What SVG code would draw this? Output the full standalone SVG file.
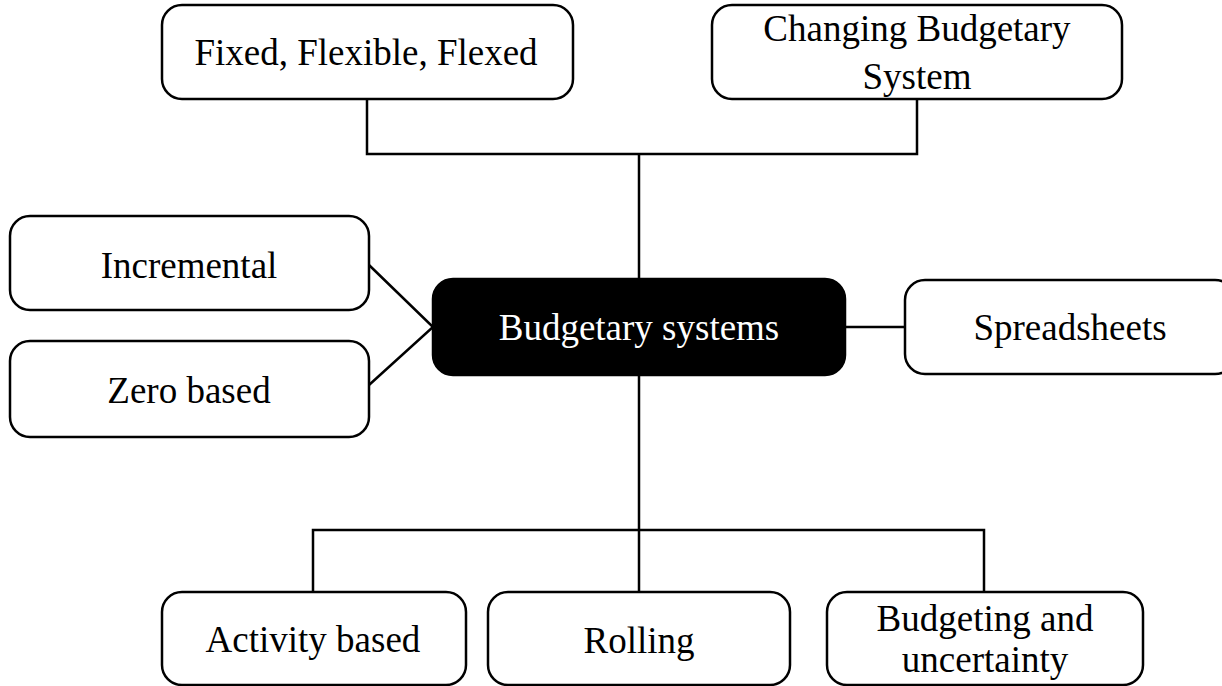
<svg xmlns="http://www.w3.org/2000/svg" width="1222" height="686" viewBox="0 0 1222 686">
<style>
.box{fill:#fff;stroke:#000;stroke-width:2.5}
.dark{fill:#000;stroke:#000;stroke-width:2.5}
.t{font-family:"Liberation Serif","Times New Roman",serif;font-size:37px;text-anchor:middle;fill:#000}
.w{fill:#fff}
.c{fill:none;stroke:#000;stroke-width:2.5}
</style>
<rect width="1222" height="686" fill="#fff"/>
<g id="connectors">
<polyline class="c" points="367,99 367,154 917,154 917,99"/>
<line class="c" x1="639" y1="154" x2="639" y2="279"/>
<polyline class="c" points="369,265 433,327 369,385"/>
<line class="c" x1="845" y1="327" x2="905" y2="327"/>
<line class="c" x1="639" y1="375" x2="639" y2="592"/>
<polyline class="c" points="313,592 313,530 984,530 984,592"/>
</g>
<g id="fixed">
<rect class="box" x="162" y="5" width="411" height="94" rx="20"/>
<text class="t" x="366" y="65">Fixed, Flexible, Flexed</text>
</g>
<g id="changing">
<rect class="box" x="712" y="5" width="410" height="94" rx="20"/>
<text class="t" x="917" y="41">Changing Budgetary</text>
<text class="t" x="917" y="89">System</text>
</g>
<g id="incremental">
<rect class="box" x="10" y="216" width="359" height="94" rx="20"/>
<text class="t" x="189" y="278">Incremental</text>
</g>
<g id="zero">
<rect class="box" x="10" y="341" width="359" height="96" rx="20"/>
<text class="t" x="189" y="403">Zero based</text>
</g>
<g id="center">
<rect class="dark" x="433" y="279" width="412" height="96" rx="20"/>
<text class="t w" x="639" y="340">Budgetary systems</text>
</g>
<g id="spreadsheets">
<rect class="box" x="905" y="280" width="330" height="94" rx="20"/>
<text class="t" x="1070" y="340">Spreadsheets</text>
</g>
<g id="activity">
<rect class="box" x="162" y="592" width="304" height="93" rx="20"/>
<text class="t" x="313" y="652">Activity based</text>
</g>
<g id="rolling">
<rect class="box" x="488" y="592" width="302" height="93" rx="20"/>
<text class="t" x="639" y="653">Rolling</text>
</g>
<g id="uncertainty">
<rect class="box" x="827" y="592" width="316" height="93" rx="20"/>
<text class="t" x="985" y="631">Budgeting and</text>
<text class="t" x="985" y="672">uncertainty</text>
</g>
</svg>
